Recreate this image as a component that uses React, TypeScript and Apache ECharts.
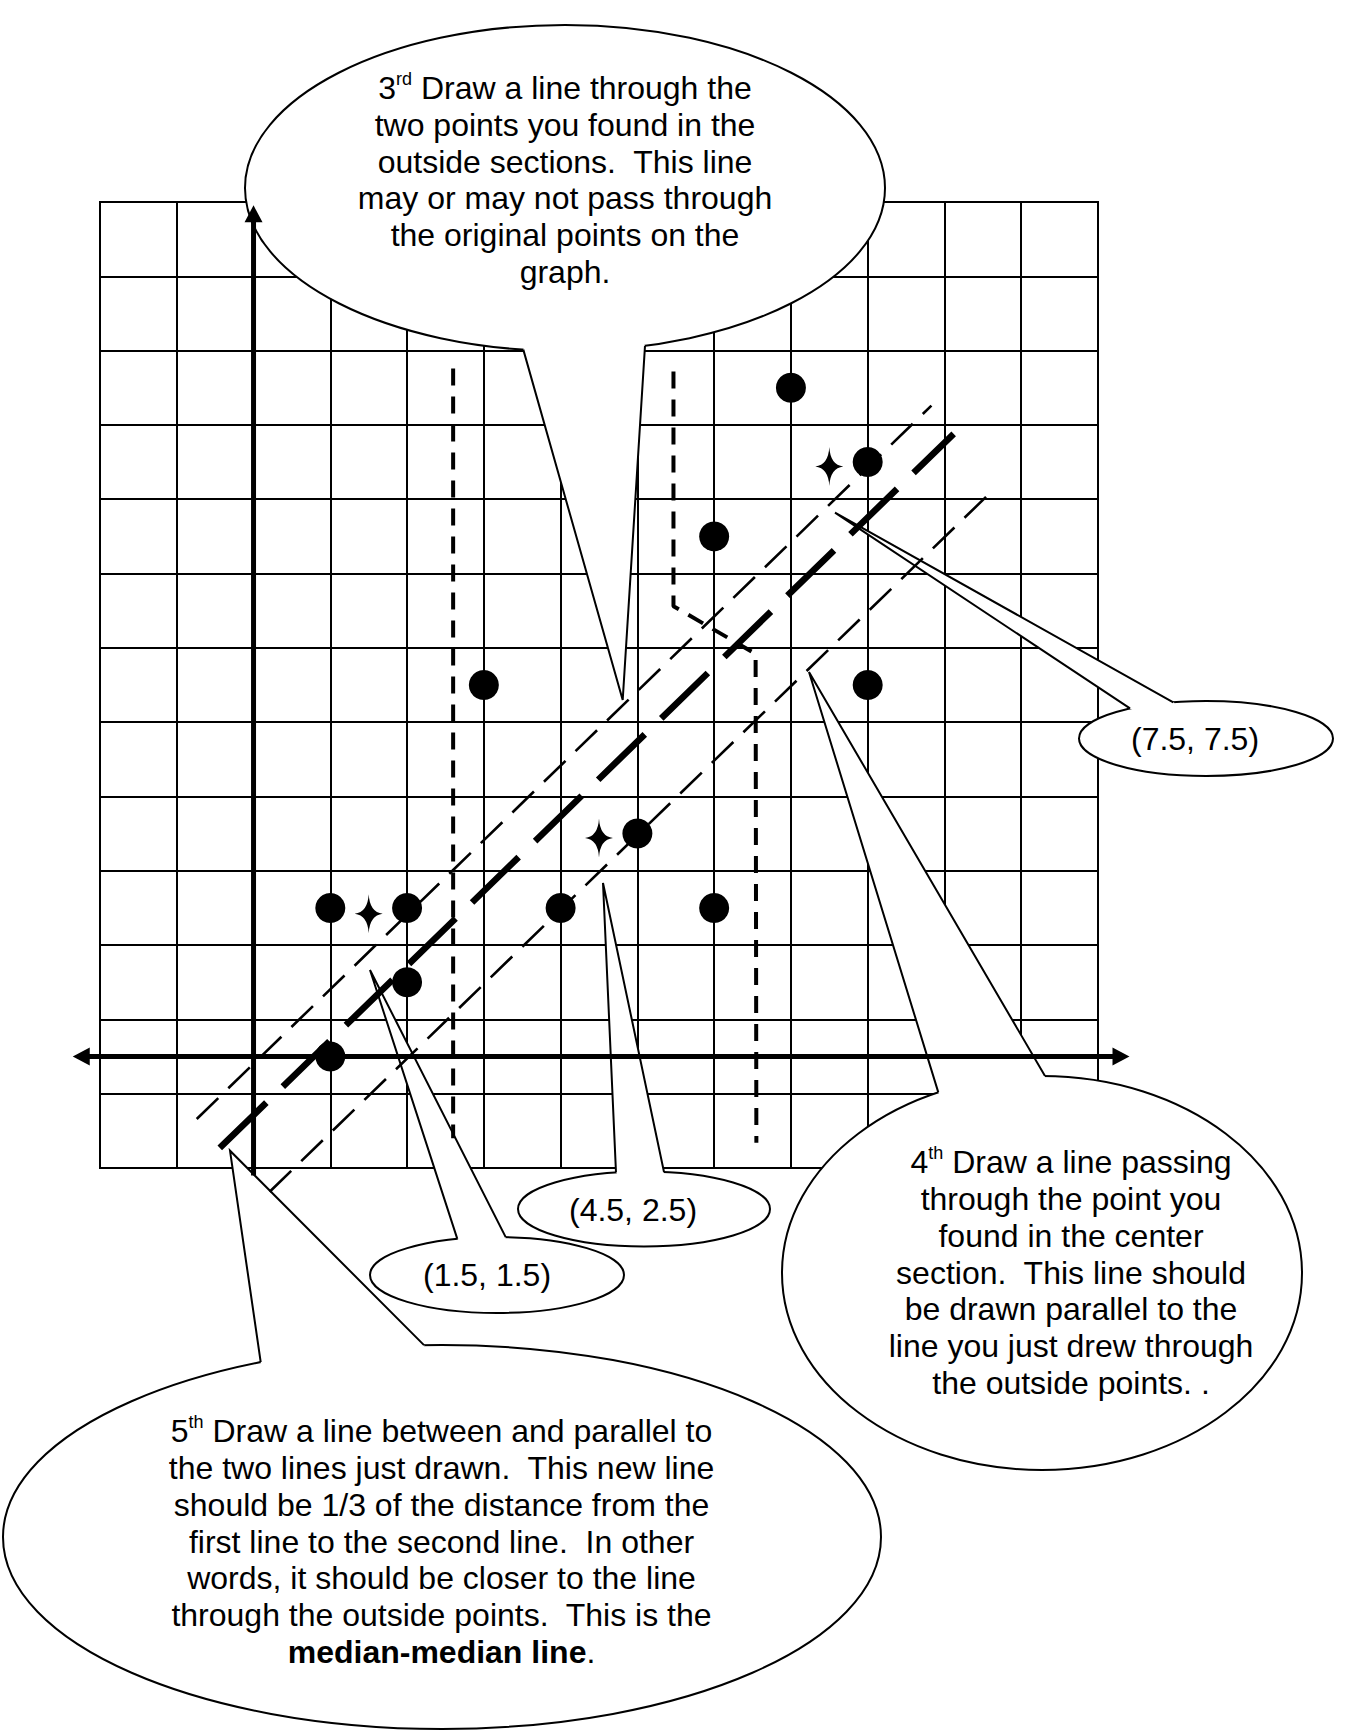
import React, { useEffect, useRef } from "react";
import * as echarts from "echarts";

// ---------- data (chart units: one grid column / one row = 1) ----------
const points: [number, number][] = [
  [1, 0], [1, 2], [2, 2], [2, 1],
  [3, 5], [4, 2], [5, 3], [6, 2],
  [6, 7], [7, 9], [8, 8], [8, 5],
];
// four-point stars as drawn next to the dots
const starMarks: [number, number][] = [[1.5, 1.92], [4.5, 2.94], [7.5, 7.94]];
// median points written in the small callouts
const medianLabels: [number, number][] = [[1.5, 1.5], [4.5, 2.5], [7.5, 7.5]];
// line through the outside points, line through the centre point, median-median line
const outerLine: [number, number][] = [[-0.74, -0.84], [8.83, 8.76]];
const centerLine: [number, number][] = [[0.21, -1.82], [9.61, 7.6]];
const medianMedianLine: [number, number][] = [[-0.44, -1.23], [9.12, 8.38]];
// section dividers
const divider1: [number, number][] = [[2.6, 9.26], [2.6, -1.1]];
const divider2: [number, number][] = [[5.47, 9.22], [5.47, 6.06], [6.54, 5.42], [6.55, -1.16]];
// drawn coordinate axes (arrow tips / open end)
const xAxisTips: [number, number] = [-2.355, 11.41];
const yAxisEnds: [number, number] = [-1.6, 11.456];

// callout texts
const step3Lines = [
  "3{sup|rd} Draw a line through the",
  "two points you found in the",
  "outside sections.  This line",
  "may or may not pass through",
  "the original points on the",
  "graph.",
];
const step4Lines = [
  "4{sup|th} Draw a line passing",
  "through the point you",
  "found in the center",
  "section.  This line should",
  "be drawn parallel to the",
  "line you just drew through",
  "the outside points. .",
];
const step5Lines = [
  "5{sup|th} Draw a line between and parallel to",
  "the two lines just drawn.  This new line",
  "should be 1/3 of the distance from the",
  "first line to the second line.  In other",
  "words, it should be closer to the line",
  "through the outside points.  This is the",
  "{b|median-median line}.",
];

const FONT = "'Liberation Sans', Arial, Helvetica, sans-serif";
const FONT_SIZE = 32;
const LINE_H = 36.8;

type Bubble = {
  id: string;
  cx: number; cy: number; rx: number; ry: number;
  tip: [number, number]; baseX: [number, number];
  text: string; tx: number; ty: number;
};

const fmt = (p: [number, number]) => `(${p[0]}, ${p[1]})`;

const bubbles: Bubble[] = [
  { id: "s3", cx: 565, cy: 188, rx: 320, ry: 163, tip: [622.7, 700], baseX: [523.3, 645], text: step3Lines.join("\n"), tx: 565, ty: 180 },
  { id: "s4", cx: 1042, cy: 1273, rx: 260, ry: 197, tip: [809, 672], baseX: [938.3, 1045], text: step4Lines.join("\n"), tx: 1071, ty: 1272.5 },
  { id: "s5", cx: 442, cy: 1537, rx: 439, ry: 192, tip: [230, 1150.7], baseX: [260.7, 424], text: step5Lines.join("\n"), tx: 441.5, ty: 1541.7 },
  { id: "m1", cx: 497, cy: 1275, rx: 127, ry: 38, tip: [370, 970], baseX: [457.3, 505.7], text: fmt(medianLabels[0]), tx: 487, ty: 1275 },
  { id: "m2", cx: 644, cy: 1209, rx: 126, ry: 37.5, tip: [603, 883], baseX: [616, 664], text: fmt(medianLabels[1]), tx: 633, ty: 1210 },
  { id: "m3", cx: 1206, cy: 738.5, rx: 127, ry: 37.5, tip: [835, 512.7], baseX: [1130, 1173.3], text: fmt(medianLabels[2]), tx: 1195, ty: 739 },
];

function bubbleGraphics(b: Bubble) {
  const side = b.tip[1] < b.cy ? -1 : 1;
  const base = b.baseX.map((x) => {
    const t = (x - b.cx) / b.rx;
    return [x, b.cy + side * b.ry * Math.sqrt(Math.max(0, 1 - t * t))];
  });
  const inner = base.map(([x, y]) => {
    const dx = b.cx - x, dy = b.cy - y;
    const d = Math.hypot(dx, dy) || 1;
    return [x + (dx / d) * 6, y + (dy / d) * 6];
  });
  return [
    {
      id: b.id + "-e", type: "ellipse", z: 1, silent: true,
      shape: { cx: b.cx, cy: b.cy, rx: b.rx, ry: b.ry },
      style: { fill: "#fff", stroke: "#000", lineWidth: 2 },
    },
    {
      id: b.id + "-f", type: "polygon", z: 1, silent: true,
      shape: { points: [inner[0], base[0], b.tip, base[1], inner[1]] },
      style: { fill: "#fff", stroke: null, lineWidth: 0 },
    },
    {
      id: b.id + "-s", type: "polyline", z: 1, silent: true,
      shape: { points: [base[0], b.tip, base[1]] },
      style: { fill: null, stroke: "#000", lineWidth: 2 },
    },
    {
      id: b.id + "-t", type: "text", z: 1, silent: true, x: b.tx, y: b.ty,
      style: {
        text: b.text, fill: "#000", fontSize: FONT_SIZE, fontFamily: FONT,
        lineHeight: LINE_H, align: "center", verticalAlign: "middle",
        rich: {
          sup: { fontSize: 18, fontFamily: FONT, fill: "#000", verticalAlign: "top", lineHeight: 20 },
          b: { fontSize: FONT_SIZE, fontFamily: FONT, fontWeight: "bold", fill: "#000", lineHeight: LINE_H },
        },
      },
    },
  ];
}

const STAR = "path://M14,0 Q15,18 28,19.5 Q15,21 14,39 Q13,21 0,19.5 Q13,18 14,0 Z";

function dashedLine(data: [number, number][], width: number, dash: number[], z = 2) {
  return {
    type: "line", data, xAxisIndex: 0, yAxisIndex: 0, clip: false, silent: true,
    symbol: "none", z,
    lineStyle: { color: "#000", width, type: dash, cap: "butt" },
    emphasis: { disabled: true },
  };
}

function buildOption() {
  const graphics: any[] = [];
  bubbles.forEach((b) => graphics.push(...bubbleGraphics(b)));
  return {
    animation: false,
    backgroundColor: "#fff",
    grid: { left: 100, top: 202, width: 998, height: 966, show: true, borderColor: "#000", borderWidth: 2, backgroundColor: "transparent" },
    xAxis: {
      type: "value", min: -2, max: 11, interval: 1,
      axisLine: { show: false }, axisTick: { show: false }, axisLabel: { show: false },
      splitLine: { show: true, lineStyle: { color: "#000", width: 2 } },
    },
    yAxis: [
      {
        type: "value", min: -1.5, max: 11.5,
        axisLine: { show: false }, axisTick: { show: false }, axisLabel: { show: false },
        splitLine: { show: false },
      },
      {
        type: "value", min: 0, max: 13, interval: 1,
        axisLine: { show: false }, axisTick: { show: false }, axisLabel: { show: false },
        splitLine: { show: true, lineStyle: { color: "#000", width: 2 } },
      },
    ],
    graphic: graphics,
    series: [
      dashedLine(divider1, 4, [17, 11]),
      dashedLine(divider2, 4, [17, 11]),
      dashedLine(outerLine, 2.6, [30, 14]),
      dashedLine(centerLine, 2.6, [30, 14]),
      dashedLine(medianMedianLine, 6.5, [65, 23]),
      {
        type: "scatter", data: points, xAxisIndex: 0, yAxisIndex: 0, silent: true,
        symbol: "circle", symbolSize: 30, itemStyle: { color: "#000", opacity: 1 }, z: 4,
      },
      {
        type: "scatter", data: starMarks, xAxisIndex: 0, yAxisIndex: 0, silent: true,
        symbol: STAR, symbolSize: [28, 39], itemStyle: { color: "#000", opacity: 1 }, z: 4,
      },
    ],
  };
}

function axisGraphics(chart: echarts.ECharts) {
  const toPx = (p: [number, number]) =>
    chart.convertToPixel({ xAxisIndex: 0, yAxisIndex: 0 }, p) as number[];
  const L = 17, H = 9, W = 5;
  const xl = toPx([xAxisTips[0], 0]);
  const xr = toPx([xAxisTips[1], 0]);
  const yb = toPx([0, yAxisEnds[0]]);
  const yt = toPx([0, yAxisEnds[1]]);
  return [
    {
      id: "ax-x", type: "line", z: 6, silent: true,
      shape: { x1: xl[0] + L - 2, y1: xl[1], x2: xr[0] - L + 2, y2: xr[1] },
      style: { stroke: "#000", lineWidth: W, lineCap: "butt" },
    },
    {
      id: "ax-xl", type: "polygon", z: 6, silent: true,
      shape: { points: [[xl[0], xl[1]], [xl[0] + L, xl[1] - H], [xl[0] + L, xl[1] + H]] },
      style: { fill: "#000" },
    },
    {
      id: "ax-xr", type: "polygon", z: 6, silent: true,
      shape: { points: [[xr[0], xr[1]], [xr[0] - L, xr[1] - H], [xr[0] - L, xr[1] + H]] },
      style: { fill: "#000" },
    },
    {
      id: "ax-y", type: "line", z: 6, silent: true,
      shape: { x1: yb[0], y1: yb[1], x2: yt[0], y2: yt[1] + L - 2 },
      style: { stroke: "#000", lineWidth: W, lineCap: "butt" },
    },
    {
      id: "ax-yt", type: "polygon", z: 6, silent: true,
      shape: { points: [[yt[0], yt[1]], [yt[0] - H, yt[1] + L], [yt[0] + H, yt[1] + L]] },
      style: { fill: "#000" },
    },
  ];
}

export default function App() {
  const ref = useRef<HTMLDivElement>(null);
  useEffect(() => {
    if (!ref.current) return;
    const chart = echarts.init(ref.current, null, { renderer: "svg" });
    const option: any = buildOption();
    chart.setOption(option);
    chart.setOption({ graphic: [...option.graphic, ...axisGraphics(chart)] });
    return () => chart.dispose();
  }, []);
  return (
    <div
      ref={ref}
      style={{ position: "absolute", left: 0, top: 0, width: 1363, height: 1733, background: "#fff" }}
    />
  );
}
